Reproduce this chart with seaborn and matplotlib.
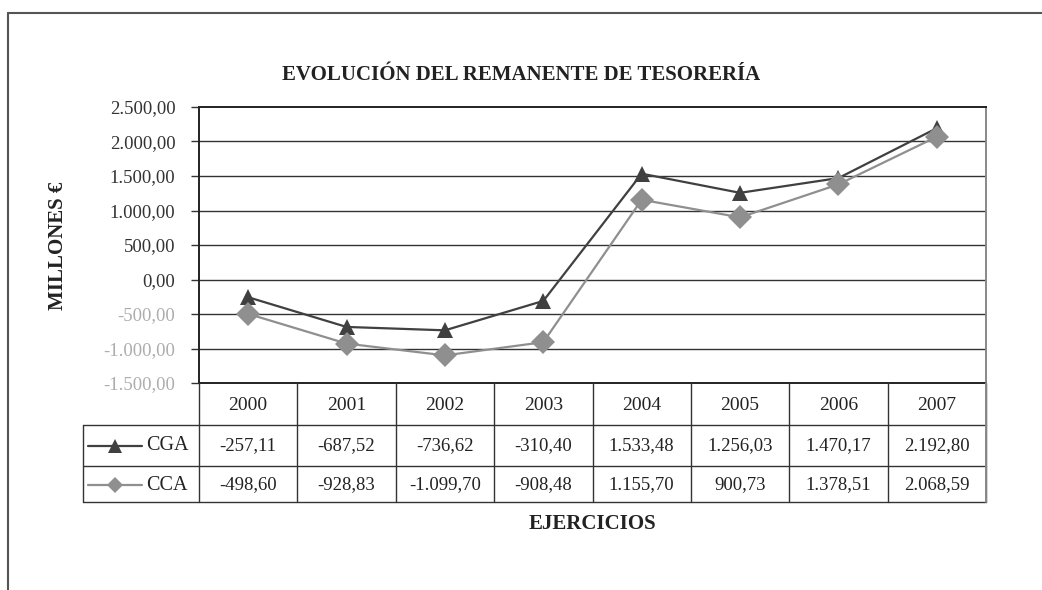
import pandas as pd
import numpy as np
import matplotlib
matplotlib.use("Agg")
import matplotlib.pyplot as plt
import seaborn as sns

years = ["2000", "2001", "2002", "2003", "2004", "2005", "2006", "2007"]
cga = [-257.11, -687.52, -736.62, -310.40, 1533.48, 1256.03, 1470.17, 2192.80]
cca = [-498.60, -928.83, -1099.70, -908.48, 1155.70, 900.73, 1378.51, 2068.59]
series_names = ["CGA", "CCA"]
series_colors = ["#404040", "#8f8f8f"]
series_markers = ["^", "D"]
y_ticks = [-1500, -1000, -500, 0, 500, 1000, 1500, 2000, 2500]


def fmt_es(v):
    s = f"{v:,.2f}"
    return s.replace(",", "X").replace(".", ",").replace("X", ".")


df = pd.DataFrame({
    "pos": list(range(len(years))) * 2,
    "valor": cga + cca,
    "serie": ["CGA"] * len(years) + ["CCA"] * len(years),
})

sns.set_theme(style="white")
plt.rcParams["font.family"] = ["Liberation Serif", "DejaVu Serif"]

W, H = 1042, 590
fig = plt.figure(figsize=(W / 100, H / 100), dpi=100)


def px_axes(l, t, r, b):
    return fig.add_axes([l / W, 1 - b / H, (r - l) / W, (b - t) / H])


# outer frame (top and left only)
fig.add_artist(plt.Line2D([8 / W, 1], [1 - 13 / H, 1 - 13 / H], color="#555555", lw=1.5))
fig.add_artist(plt.Line2D([8 / W, 8 / W], [1 - 13 / H, 0], color="#555555", lw=1.5))

ax = px_axes(199, 107, 986, 383)
sns.lineplot(data=df, x="pos", y="valor", hue="serie", style="serie",
             hue_order=series_names, style_order=series_names,
             palette=series_colors, markers=series_markers, dashes=False,
             markersize=12, markeredgewidth=0, linewidth=1.6, legend=False, ax=ax)
ax.set_xlim(-0.5, len(years) - 0.5)
ax.set_ylim(y_ticks[0], y_ticks[-1])
ax.set_yticks(y_ticks)
ax.set_yticklabels([fmt_es(v) for v in y_ticks], fontsize=13.5)
for lab, v in zip(ax.get_yticklabels(), y_ticks):
    lab.set_color("#adadad" if v < 0 else "#333333")
ax.set_xticks([])
ax.set_xlabel("")
ax.set_ylabel("")
ax.tick_params(axis="y", direction="out", length=6, width=1, color="#333333", pad=11, left=True)
for v in y_ticks[1:-1]:
    ax.axhline(v, color="#333333", lw=1, zorder=0)
for side in ["top", "bottom", "left"]:
    ax.spines[side].set_color("#222222")
    ax.spines[side].set_linewidth(1.4)
ax.spines["right"].set_color("#888888")
ax.spines["right"].set_linewidth(1.4)
ax.spines["bottom"].set_visible(False)

# data table under the plot
tab = px_axes(83, 383, 986, 503)
leg_w = (199 - 83) / ((986 - 199) / len(years))
tab.set_xlim(-0.5 - leg_w, len(years) - 0.5)
tab.set_ylim(503, 383)
tab.axis("off")
row_edges = [383, 425, 466, 502]
lc = "#333333"
x0 = -0.5 - leg_w
xr = len(years) - 0.5
tab.plot([-0.5, xr], [row_edges[0]] * 2, color="#222222", lw=1.4, clip_on=False)
for ye in row_edges[1:]:
    tab.plot([x0, xr], [ye, ye], color=lc, lw=1, clip_on=False)
for i in range(len(years) + 1):
    tab.plot([i - 0.5] * 2, [row_edges[0], row_edges[-1]], color=lc, lw=1, clip_on=False)
tab.plot([x0, x0], [row_edges[1], row_edges[-1]], color=lc, lw=1, clip_on=False)
tab.plot([xr, xr], [row_edges[0], row_edges[-1]], color="#888888", lw=1.4, clip_on=False)

for i, yr in enumerate(years):
    tab.text(i, 405, yr, ha="center", va="center", fontsize=14, color="#222222")
rows = [cga, cca]
row_y = [446, 485]
for vals, yc in zip(rows, row_y):
    for i, v in enumerate(vals):
        tab.text(i, yc, fmt_es(v), ha="center", va="center", fontsize=13.5, color="#222222")
for name, col, mk, yc in zip(series_names, series_colors, series_markers, row_y):
    lx0 = x0 + 0.05
    lx1 = x0 + 0.6
    tab.plot([lx0, lx1], [yc, yc], color=col, lw=1.6, clip_on=False)
    tab.plot([(lx0 + lx1) / 2], [yc], marker=mk, color=col, markersize=10 if mk == "^" else 8.5,
             markeredgewidth=0, clip_on=False)
    tab.text(lx1 + 0.04, yc, name, ha="left", va="center", fontsize=14.5, color="#222222")

fig.text(521 / W, 1 - 75 / H, "EVOLUCIÓN DEL REMANENTE DE TESORERÍA", ha="center", va="center",
         fontsize=15, fontweight="bold", color="#222222")
fig.text(58 / W, 1 - 246 / H, "MILLONES €", ha="center", va="center", rotation=90,
         fontsize=15, fontweight="bold", color="#222222")
fig.text(592 / W, 1 - 524 / H, "EJERCICIOS", ha="center", va="center",
         fontsize=15, fontweight="bold", color="#222222")

fig.savefig("out.png", dpi=100, facecolor="white")
